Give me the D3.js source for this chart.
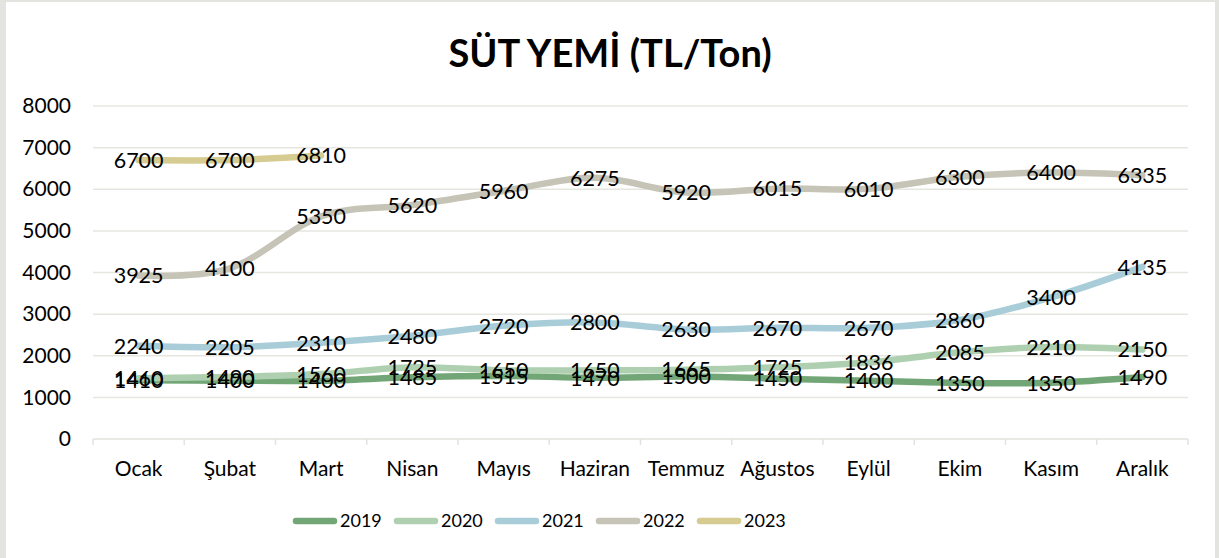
<!DOCTYPE html>
<html>
<head>
<meta charset="utf-8">
<script src="https://cdn.jsdelivr.net/npm/d3@7"></script>
<style>
  html, body { margin: 0; padding: 0; background: #fff; }
  svg { display: block; font-family: Lato, "Open Sans", sans-serif; }
</style>
</head>
<body>
<svg id="chart" width="1219" height="558"></svg>
<script>
// Monthly milk-feed prices, TL per ton
const months = ["Ocak", "Şubat", "Mart", "Nisan", "Mayıs", "Haziran", "Temmuz", "Ağustos", "Eylül", "Ekim", "Kasım", "Aralık"];
const years = ["2019", "2020", "2021", "2022", "2023"];
const values2019 = [1410, 1400, 1400, 1485, 1515, 1470, 1500, 1450, 1400, 1350, 1350, 1490];
const values2020 = [1460, 1490, 1560, 1725, 1650, 1650, 1665, 1725, 1836, 2085, 2210, 2150];
const values2021 = [2240, 2205, 2310, 2480, 2720, 2800, 2630, 2670, 2670, 2860, 3400, 4135];
const values2022 = [3925, 4100, 5350, 5620, 5960, 6275, 5920, 6015, 6010, 6300, 6400, 6335];
const values2023 = [6700, 6700, 6810];
const yTicks = [0, 1000, 2000, 3000, 4000, 5000, 6000, 7000, 8000];
const colors = ["#72a676", "#afd0b0", "#a8cdd9", "#c6c4b6", "#d6cb90"];

const series = [values2019, values2020, values2021, values2022, values2023].map((vals, i) => ({
  year: years[i],
  color: colors[i],
  points: vals.map((v, j) => ({ month: months[j], value: v }))
}));

const W = 1219, H = 558;
const svg = d3.select("#chart");

// frame
svg.append("rect").attr("width", W).attr("height", H).attr("fill", "#e3e4df");
svg.append("rect").attr("x", 6).attr("y", 2).attr("width", 1209).attr("height", H - 2).attr("fill", "#ffffff");

const x = d3.scaleBand().domain(months).range([93, 1188]);
const y = d3.scaleLinear().domain([0, 8000]).range([439, 106]);
const cx = m => x(m) + x.bandwidth() / 2;

// title
svg.append("text")
  .attr("x", 610).attr("y", 67)
  .attr("text-anchor", "middle")
  .attr("font-size", 38).attr("font-weight", 700)
  .attr("fill", "#000")
  .text("SÜT YEMİ (TL/Ton)");

// horizontal gridlines
svg.append("g").selectAll("line")
  .data(yTicks.filter(t => t > 0))
  .join("line")
  .attr("x1", 93).attr("x2", 1188)
  .attr("y1", d => y(d)).attr("y2", d => y(d))
  .attr("stroke", "#e6e6e0").attr("stroke-width", 1.5);

// y axis labels
const yAxis = d3.axisLeft(y).tickValues(yTicks).tickSize(0).tickPadding(0).tickFormat(d3.format("d"));
const yg = svg.append("g").attr("transform", "translate(71,0)").call(yAxis);
yg.select(".domain").remove();
yg.selectAll("text").attr("font-size", 21).attr("fill", "#000").attr("font-family", "Lato, 'Open Sans', sans-serif");

// category axis
const xAxis = d3.axisBottom(x).tickSize(0).tickPadding(0);
const xg = svg.append("g").attr("transform", "translate(0,439)").call(xAxis);
xg.select(".domain").remove();
xg.selectAll("text").attr("font-size", 21).attr("fill", "#000").attr("dy", "1.05em").attr("y", 15)
  .attr("font-family", "Lato, 'Open Sans', sans-serif");

svg.append("line")
  .attr("x1", 93).attr("x2", 1188).attr("y1", y(0)).attr("y2", y(0))
  .attr("stroke", "#e3e3dd").attr("stroke-width", 1.5);
const boundaries = months.map(m => x(m)).concat([x.range()[1]]);
svg.append("g").selectAll("line")
  .data(boundaries)
  .join("line")
  .attr("x1", d => d).attr("x2", d => d)
  .attr("y1", y(0)).attr("y2", y(0) + 6)
  .attr("stroke", "#e3e3dd").attr("stroke-width", 1.5);

// series lines
const line = d3.line()
  .x(d => cx(d.month))
  .y(d => y(d.value))
  .curve(d3.curveCatmullRom.alpha(0));

svg.append("g").selectAll("path")
  .data(series)
  .join("path")
  .attr("d", d => line(d.points))
  .attr("fill", "none")
  .attr("stroke", d => d.color)
  .attr("stroke-width", 6.5)
  .attr("stroke-linecap", "round")
  .attr("stroke-linejoin", "round");

// value labels centred on each point
svg.append("g").selectAll("g")
  .data(series)
  .join("g")
  .selectAll("text")
  .data(d => d.points)
  .join("text")
  .attr("x", d => cx(d.month))
  .attr("y", d => y(d.value))
  .attr("dy", "0.36em")
  .attr("text-anchor", "middle")
  .attr("font-size", 21.5)
  .attr("fill", "#000")
  .text(d => d.value);

// legend
const legendStart = 293, legendStep = 101, legendY = 521;
const lg = svg.append("g").selectAll("g")
  .data(series)
  .join("g")
  .attr("transform", (d, i) => `translate(${legendStart + i * legendStep},${legendY})`);
lg.append("line")
  .attr("x1", 3).attr("x2", 41)
  .attr("stroke", d => d.color)
  .attr("stroke-width", 6.5)
  .attr("stroke-linecap", "round");
lg.append("text")
  .attr("x", 47).attr("dy", "0.36em")
  .attr("font-size", 18)
  .attr("fill", "#000")
  .text(d => d.year);
</script>
</body>
</html>
